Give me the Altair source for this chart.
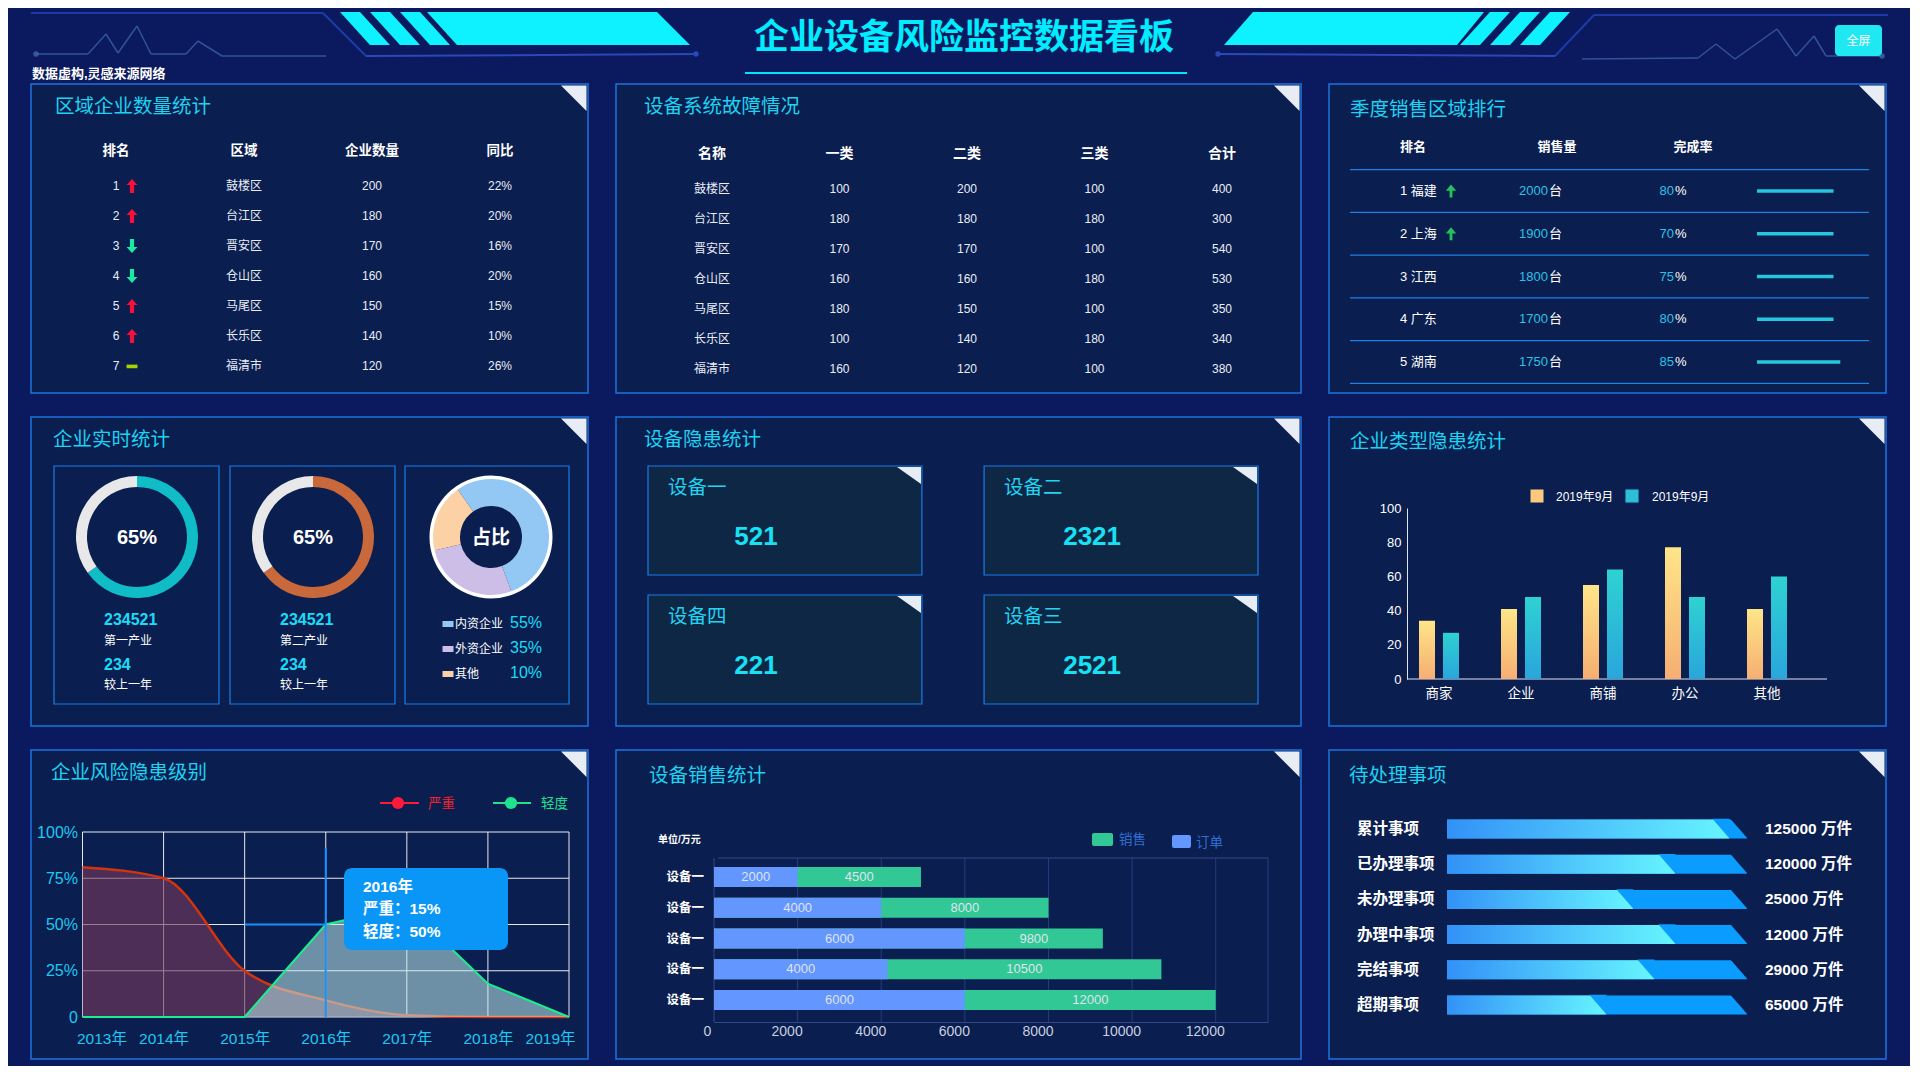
import altair as alt
import pandas as pd

# ---------------- data ----------------
page_title = "企业设备风险监控数据看板"
page_note = "数据虚构,灵感来源网络"
fullscreen_label = "全屏"

t1_title = "区域企业数量统计"
t1_cols = ["排名", "区域", "企业数量", "同比"]
t1_rank = [1, 2, 3, 4, 5, 6, 7]
t1_region = ["鼓楼区", "台江区", "晋安区", "仓山区", "马尾区", "长乐区", "福清市"]
t1_count = [200, 180, 170, 160, 150, 140, 120]
t1_yoy = ["22%", "20%", "16%", "20%", "15%", "10%", "26%"]
t1_trend = ["up", "up", "down", "down", "up", "up", "flat"]

t2_title = "设备系统故障情况"
t2_cols = ["名称", "一类", "二类", "三类", "合计"]
t2_name = ["鼓楼区", "台江区", "晋安区", "仓山区", "马尾区", "长乐区", "福清市"]
t2_c1 = [100, 180, 170, 160, 180, 100, 160]
t2_c2 = [200, 180, 170, 160, 150, 140, 120]
t2_c3 = [100, 180, 100, 180, 100, 180, 100]
t2_total = [400, 300, 540, 530, 350, 340, 380]

t3_title = "季度销售区域排行"
t3_cols = ["排名", "销售量", "完成率"]
t3_rank = [1, 2, 3, 4, 5]
t3_area = ["福建", "上海", "江西", "广东", "湖南"]
t3_sales = [2000, 1900, 1800, 1700, 1750]
t3_unit = "台"
t3_rate = [80, 70, 75, 80, 85]
t3_rising = [True, True, False, False, False]
t3_bar = [90, 90, 90, 90, 98]

t4_title = "企业实时统计"
t4_share = [65, 65]
t4_total = ["234521", "234521"]
t4_kind = ["第一产业", "第二产业"]
t4_delta = ["234", "234"]
t4_delta_label = ["较上一年", "较上一年"]
t4_pie_center = "占比"
t4_pie_cat = ["内资企业", "外资企业", "其他"]
t4_pie_val = [54, 27, 19]
t4_pie_pct = ["55%", "35%", "10%"]

t5_title = "设备隐患统计"
t5_name = ["设备一", "设备二", "设备四", "设备三"]
t5_value = ["521", "2321", "221", "2521"]
t5_col = [0, 1, 0, 1]
t5_row = [0, 0, 1, 1]

t6_title = "企业类型隐患统计"
t6_cat = ["商家", "企业", "商铺", "办公", "其他"]
t6_a = [34, 41, 55, 77, 41]
t6_b = [27, 48, 64, 48, 60]
t6_series = ["2019年9月", "2019年9月"]
t6_ticks = [0, 20, 40, 60, 80, 100]

t7_title = "企业风险隐患级别"
t7_year = ["2013年", "2014年", "2015年", "2016年", "2017年", "2018年", "2019年"]
t7_severe = [81, 75, 25, 9, 1, 0, 0]
t7_mild = [0, 0, 0, 50, 60, 18, 0]
t7_ticks = [0, 25, 50, 75, 100]
t7_legend = ["严重", "轻度"]
t7_tip = ["2016年", "严重：15%", "轻度：50%"]

t8_title = "设备销售统计"
t8_unit = "单位/万元"
t8_name = ["设备一", "设备一", "设备一", "设备一", "设备一"]
t8_order = [2000, 4000, 6000, 4150, 6000]
t8_sales = [4950, 8000, 9300, 10700, 12000]
t8_order_label = ["2000", "4000", "6000", "4000", "6000"]
t8_sales_label = ["4500", "8000", "9800", "10500", "12000"]
t8_ticks = [0, 2000, 4000, 6000, 8000, 10000, 12000]
t8_xmax = 13250
t8_legend = ["销售", "订单"]

t9_title = "待处理事项"
t9_item = ["累计事项", "已办理事项", "未办理事项", "办理中事项", "完结事项", "超期事项"]
t9_value = ["125000 万件", "120000 万件", "25000 万件", "12000 万件", "29000 万件", "65000 万件"]
t9_progress = [94, 76, 62, 76, 69, 53]

# ---------------- style ----------------
FONT = "Liberation Sans, Noto Sans CJK SC"
BG = "#0b1a5e"
PANEL = "#0a1e50"
BORDER = "#1b74dc"
BOX = "#1a7de6"
TITLE_C = "#1dd3f0"
CYAN = "#1adcf7"
TXT = "#e9edf5"
H = 309


def single():
    return alt.Chart(alt.Data(values=[{"k": 0}]))


def txt(s, x, y, size=12, color=TXT, weight="normal", align="left"):
    return single().mark_text(text=s, font=FONT, fontSize=size, color=color, fontWeight=weight,
                              align=align, baseline="middle").encode(x=alt.value(x), y=alt.value(y))


def rule(x1, y1, x2, y2, color, width=1.0, opacity=1.0):
    return single().mark_rule(color=color, strokeWidth=width, opacity=opacity).encode(
        x=alt.value(x1), y=alt.value(y1), x2=alt.value(x2), y2=alt.value(y2))


def polyline(pts, color, width=1.5, opacity=1.0):
    return [rule(a[0], a[1], b[0], b[1], color, width, opacity) for a, b in zip(pts[:-1], pts[1:])]


def box(x1, y1, x2, y2, fill="transparent", stroke="transparent", sw=1.0, radius=0):
    return single().mark_rect(fill=fill, stroke=stroke, strokeWidth=sw, cornerRadius=radius).encode(
        x=alt.value(x1), y=alt.value(y1), x2=alt.value(x2), y2=alt.value(y2))


def poly(pts, color):
    xs = [p[0] for p in pts]
    ys = [p[1] for p in pts]
    cx = (min(xs) + max(xs)) / 2
    cy = (min(ys) + max(ys)) / 2
    half = max(max(xs) - min(xs), max(ys) - min(ys)) / 2
    path = "M" + "L".join(f"{(x - cx) / half:.4f},{(y - cy) / half:.4f}" for x, y in pts) + "Z"
    return single().mark_point(shape=path, size=(2 * half) ** 2, filled=True, color=color,
                               opacity=1, strokeWidth=0).encode(x=alt.value(cx), y=alt.value(cy))


def dot(x, y, color, size=30, opacity=1.0):
    return single().mark_point(shape="circle", size=size, filled=True, color=color, opacity=opacity,
                               strokeWidth=0).encode(x=alt.value(x), y=alt.value(y))


def panel(w, title, tx, ty, layers, **resolve):
    ch = alt.layer(*layers, txt(title, tx, ty, 19.5, TITLE_C),
                   poly([(w - 27, 1.5), (w - 1.5, 1.5), (w - 1.5, 27)], "#e8edf5"))
    if resolve:
        ch = ch.resolve_scale(**resolve)
    return ch.properties(width=w, height=H,
                         view=alt.ViewBackground(fill=PANEL, stroke=BORDER, strokeWidth=1.5))


UP = "M0,-1L0.78,-0.15L0.3,-0.15L0.3,1L-0.3,1L-0.3,-0.15L-0.78,-0.15Z"
DOWN = "M0,1L0.78,0.15L0.3,0.15L0.3,-1L-0.3,-1L-0.3,0.15L-0.78,0.15Z"
DASH = "M-0.78,-0.2L0.78,-0.2L0.78,0.32L-0.78,0.32Z"
UP_THIN = "M0,-1L0.8,-0.05L0.22,-0.05L0.22,1L-0.22,1L-0.22,-0.05L-0.8,-0.05Z"
RECT = "M-1,-0.55L1,-0.55L1,0.55L-1,0.55Z"
CUT = "M-1.75,-1.08L0.06,-1.08L0.06,1.0Z"

# ---------------- header ----------------
PULSE = "#3f65a8"
hdr = [
    rule(0, 4, 292, 4, "#1f3aa6", 2), rule(292, 4, 335, 47, "#1f3aa6", 2),
    rule(335, 47, 665, 45, "#2a48b8", 2), dot(665, 45, "#2a48b8", 28),
    rule(1857, 6, 1563, 6, "#1f3aa6", 2), rule(1563, 6, 1524, 47, "#1f3aa6", 2),
    rule(1524, 47, 1187, 45, "#2a48b8", 2), dot(1187, 45, "#2a48b8", 28),
    poly([(396, 3), (626, 3), (659, 36), (426, 36)], "#0ef2ff"),
    poly([(1222, 3), (1453, 3), (1426, 36), (1193, 36)], "#0ef2ff"),
    dot(5, 45, PULSE, 30, 0.8), dot(1851, 47, PULSE, 30, 0.8),
]
hdr += polyline([(5, 45), (57, 45), (75, 25), (87, 44), (106, 17), (120, 45), (155, 45), (167, 32),
                 (191, 47), (295, 47)], PULSE, 1.5, 0.75)
hdr += polyline([(1551, 50), (1667, 49), (1685, 35), (1704, 50), (1746, 20), (1765, 47), (1783, 27),
                 (1795, 47), (1851, 47)], PULSE, 1.5, 0.75)
for x0 in [340, 370, 400]:
    hdr.append(poly([(x0 - 31, 3), (x0 - 11, 3), (x0 + 19, 36), (x0 - 1, 36)], "#0ef2ff"))
for x0 in [1490, 1520, 1550]:
    hdr.append(poly([(x0 - 31, 3), (x0 - 11, 3), (x0 - 41, 36), (x0 - 61, 36)], "#0ef2ff"))
hdr += [
    txt(page_title, 933, 29, 35, "#00ecff", "bold", "center"),
    rule(714, 64, 1156, 64, "#00e5ff", 2),
    txt(page_note, 1, 65, 13, "white", "bold"),
    box(1804, 16, 1851, 47, fill="#1fe8f2", radius=4),
    txt(fullscreen_label, 1827.5, 31.5, 12, "white", "normal", "center"),
]
header = alt.layer(*hdr).properties(width=1857, height=73)

# ---------------- panel 1 ----------------
sc1x = alt.Scale(type="point", domain=t1_cols, range=[85, 469], padding=0)
sc1y = alt.Scale(type="point", domain=t1_rank, range=[102, 282], padding=0)
cells1 = pd.DataFrame([{"row": r, "col": c, "t": str(v)}
                       for i, r in enumerate(t1_rank)
                       for c, v in zip(t1_cols, [r, t1_region[i], t1_count[i], t1_yoy[i]])])
p1 = panel(557, t1_title, 24, 23, [
    alt.Chart(pd.DataFrame({"col": t1_cols})).mark_text(font=FONT, fontSize=13.5, fontWeight="bold", color="white").encode(
        x=alt.X("col:N", scale=sc1x, axis=None), y=alt.value(67), text="col:N"),
    alt.Chart(cells1).mark_text(font=FONT, fontSize=12, color=TXT).encode(
        x=alt.X("col:N", scale=sc1x, axis=None), y=alt.Y("row:O", scale=sc1y, axis=None), text="t:N"),
    alt.Chart(pd.DataFrame({"row": t1_rank, "trend": t1_trend})).mark_point(
        filled=True, opacity=1, size=196, strokeWidth=0).encode(
        x=alt.value(101), y=alt.Y("row:O", scale=sc1y, axis=None),
        shape=alt.Shape("trend:N", scale=alt.Scale(domain=["up", "down", "flat"], range=[UP, DOWN, DASH]), legend=None),
        color=alt.Color("trend:N", scale=alt.Scale(domain=["up", "down", "flat"], range=["#f5113c", "#1ee8a4", "#a6d200"]), legend=None)),
])

# ---------------- panel 2 ----------------
sc2x = alt.Scale(type="point", domain=t2_cols, range=[96, 606], padding=0)
sc2y = alt.Scale(type="point", domain=t1_rank, range=[105, 285], padding=0)
cells2 = pd.DataFrame([{"row": i + 1, "col": c, "t": str(v)}
                       for i in range(len(t2_name))
                       for c, v in zip(t2_cols, [t2_name[i], t2_c1[i], t2_c2[i], t2_c3[i], t2_total[i]])])
p2 = panel(685, t2_title, 28, 23, [
    alt.Chart(pd.DataFrame({"col": t2_cols})).mark_text(font=FONT, fontSize=14, fontWeight="bold", color="white").encode(
        x=alt.X("col:N", scale=sc2x, axis=None), y=alt.value(70), text="col:N"),
    alt.Chart(cells2).mark_text(font=FONT, fontSize=12, color=TXT).encode(
        x=alt.X("col:N", scale=sc2x, axis=None), y=alt.Y("row:O", scale=sc2y, axis=None), text="t:N"),
])

# ---------------- panel 3 ----------------
d3 = pd.DataFrame({"idx": t3_rank, "label": [f"{r} {a}" for r, a in zip(t3_rank, t3_area)],
                   "sales": [str(s) for s in t3_sales], "rate": [str(r) for r in t3_rate],
                   "rising": t3_rising, "bar": t3_bar})
d3sep = pd.DataFrame({"idx": [r - 0.5 for r in t3_rank] + [t3_rank[-1] + 0.5]})
sc3y = alt.Scale(domain=[1, 5], range=[107, 278])
sc3x = alt.Scale(domain=[0, 100], range=[428, 513])
Y3 = alt.Y("idx:Q", scale=sc3y, axis=None)
l3 = [alt.Chart(d3sep).mark_rule(color="#1e7fe4", strokeWidth=1.2).encode(y=Y3, x=alt.value(21), x2=alt.value(540))]
for c, x in zip(t3_cols, [84, 228, 364]):
    l3.append(txt(c, x, 63, 13, "white", "bold", "center"))
l3 += [
    alt.Chart(d3).mark_text(align="left", font=FONT, fontSize=13, color="white").encode(x=alt.value(71), y=Y3, text="label:N"),
    alt.Chart(d3).transform_filter("datum.rising").mark_point(shape=UP_THIN, size=169, filled=True, opacity=1,
                                                              color="#25c25a", strokeWidth=0).encode(x=alt.value(122), y=Y3),
    alt.Chart(d3).mark_text(align="right", font=FONT, fontSize=13, color="#2ac3e6").encode(x=alt.value(219), y=Y3, text="sales:N"),
    alt.Chart(d3).mark_text(text=t3_unit, align="left", font=FONT, fontSize=13, color="white").encode(x=alt.value(220), y=Y3),
    alt.Chart(d3).mark_text(align="right", font=FONT, fontSize=13, color="#2ac3e6").encode(x=alt.value(345), y=Y3, text="rate:N"),
    alt.Chart(d3).mark_text(text="%", align="left", font=FONT, fontSize=13, color="white").encode(x=alt.value(346), y=Y3),
    alt.Chart(d3).transform_calculate(z="0").mark_rule(color="#25c6de", strokeWidth=3.5).encode(
        x=alt.X("z:Q", scale=sc3x, axis=None), x2="bar:Q", y=Y3),
]
p3 = panel(557, t3_title, 21, 26, l3)

# ---------------- panel 4 ----------------
l4 = []
for x1, x2 in [(23, 188), (199, 364), (374, 538)]:
    l4.append(box(x1, 49, x2, 287, stroke=BOX, sw=1.2))
donut_cx = [106, 282]
donut_col = ["#10bdc6", "#c9683a"]
text_x = [73, 249]
for i in range(2):
    d = pd.DataFrame({"k": ["on", "off"], "v": [t4_share[i], 100 - t4_share[i]], "o": [0, 1]})
    l4.append(alt.Chart(d).mark_arc(innerRadius=50, outerRadius=61).encode(
        theta=alt.Theta("v:Q", stack=True),
        color=alt.Color("k:N", scale=alt.Scale(domain=["on", "off"], range=[donut_col[i], "#e8e8e8"]), legend=None),
        order=alt.Order("o:Q"), x=alt.value(donut_cx[i]), y=alt.value(120)))
    l4.append(txt(f"{t4_share[i]}%", donut_cx[i], 121, 20, "white", "bold", "center"))
    l4.append(txt(t4_total[i], text_x[i], 203, 16, CYAN, "bold"))
    l4.append(txt(t4_kind[i], text_x[i], 224, 12, "white"))
    l4.append(txt(t4_delta[i], text_x[i], 248, 16, CYAN, "bold"))
    l4.append(txt(t4_delta_label[i], text_x[i], 268, 12, "white"))
PIE_COLORS = ["#92c8f3", "#cdbee8", "#fdd1a6"]
dpie = pd.DataFrame({"cat": t4_pie_cat, "pv": t4_pie_val, "pct": t4_pie_pct, "o": [0, 1, 2]})
sc4y = alt.Scale(type="point", domain=t4_pie_cat, range=[207, 257], padding=0)
sc4c = alt.Scale(domain=t4_pie_cat, range=PIE_COLORS)
l4 += [
    single().mark_arc(theta=0, theta2=6.2832, innerRadius=57, outerRadius=61.5, color="white").encode(
        x=alt.value(460), y=alt.value(120)),
    alt.Chart(dpie).mark_arc(innerRadius=31, outerRadius=58).encode(
        theta=alt.Theta("pv:Q", stack=True, scale=alt.Scale(range=[5.672, 11.955])),
        color=alt.Color("cat:N", scale=sc4c, legend=None), order=alt.Order("o:Q"),
        x=alt.value(460), y=alt.value(120)),
    txt(t4_pie_center, 460, 121, 19, "white", "bold", "center"),
    alt.Chart(dpie).mark_point(shape=RECT, size=121, filled=True, opacity=1, strokeWidth=0).encode(
        x=alt.value(417), y=alt.Y("cat:N", scale=sc4y, axis=None), color=alt.Color("cat:N", scale=sc4c, legend=None)),
    alt.Chart(dpie).mark_text(align="left", font=FONT, fontSize=12, color="white").encode(
        x=alt.value(424), y=alt.Y("cat:N", scale=sc4y, axis=None), text="cat:N"),
    alt.Chart(dpie).mark_text(align="left", font=FONT, fontSize=16, color=CYAN, dy=-1).encode(
        x=alt.value(479), y=alt.Y("cat:N", scale=sc4y, axis=None), text="pct:N"),
]
p4 = panel(557, t4_title, 22, 23, l4, theta="independent", color="independent")

# ---------------- panel 5 ----------------
d5 = pd.DataFrame({"name": t5_name, "value": t5_value, "col": t5_col, "row": t5_row})
sc5x = alt.Scale(type="band", domain=[0, 1], range=[32, 642], paddingInner=0.185, paddingOuter=0)
sc5y = alt.Scale(type="band", domain=[0, 1], range=[49, 287], paddingInner=0.155, paddingOuter=0)
l5 = [
    alt.Chart(d5).mark_rect(fill="#0e2744", stroke=BOX, strokeWidth=1.2).encode(
        x=alt.X("col:O", scale=sc5x, axis=None), y=alt.Y("row:O", scale=sc5y, axis=None)),
    alt.Chart(d5).mark_text(align="left", baseline="middle", dx=20, dy=22, font=FONT, fontSize=19.5, color="#22d3f2").encode(
        x=alt.X("col:O", scale=sc5x, axis=None, bandPosition=0), y=alt.Y("row:O", scale=sc5y, axis=None, bandPosition=0), text="name:N"),
    alt.Chart(d5).mark_text(align="center", baseline="middle", dx=108, dy=71, font=FONT, fontSize=26, fontWeight="bold", color="#18e0f5").encode(
        x=alt.X("col:O", scale=sc5x, axis=None, bandPosition=0), y=alt.Y("row:O", scale=sc5y, axis=None, bandPosition=0), text="value:N"),
]
for c in [0, 1]:
    for r in [0, 1]:
        x1 = 32 + c * 336 + 274
        y0 = 49 + r * 129
        l5.append(poly([(x1 - 25, y0 + 1), (x1 - 1, y0 + 1), (x1 - 1, y0 + 18)], "#e8edf5"))
p5 = panel(685, t5_title, 28, 23, l5)

# ---------------- panel 6 ----------------
GRAD_A = alt.LinearGradient(gradient="linear", stops=[alt.GradientStop(color="#f6ae72", offset=0),
                                                      alt.GradientStop(color="#ffe588", offset=1)],
                            x1=0, x2=0, y1=1, y2=0)
GRAD_B = alt.LinearGradient(gradient="linear", stops=[alt.GradientStop(color="#2aa5dc", offset=0),
                                                      alt.GradientStop(color="#2ed2d2", offset=1)],
                            x1=0, x2=0, y1=1, y2=0)
sc6x = alt.Scale(type="band", domain=t6_cat, range=[69, 479], paddingInner=0, paddingOuter=0)
sc6o = alt.Scale(type="band", domain=["a", "b"], paddingInner=0.333, paddingOuter=0.875)
Y6R = [262, 91]
sc6y = alt.Scale(domain=[0, 100], range=Y6R, nice=False)
AX6 = alt.Axis(orient="bottom", offset=-47, domain=False, ticks=False, grid=False, labelAngle=0, labelColor="white",
               labelFont=FONT, labelFontSize=13.5, labelPadding=7, title=None, zindex=1)
AY6 = alt.Axis(orient="left", offset=-78, values=t6_ticks, format="d", domain=True, domainColor="#dfe5ee", ticks=False,
               grid=False, labelColor="white", labelFont=FONT, labelFontSize=13, labelPadding=6, title=None, zindex=1)
X6 = alt.X("cat:N", scale=sc6x, axis=AX6)
Y6 = alt.Y("v:Q", scale=sc6y, axis=AY6)
d6a = pd.DataFrame({"cat": t6_cat, "s": ["a"] * 5, "v": t6_a})
d6b = pd.DataFrame({"cat": t6_cat, "s": ["b"] * 5, "v": t6_b})
l6 = [
    rule(78, Y6R[0], 498, Y6R[0], "#dfe5ee", 1),
    alt.Chart(d6a).mark_bar(color=GRAD_A).encode(x=X6, xOffset=alt.XOffset("s:N", scale=sc6o), y=Y6),
    alt.Chart(d6b).mark_bar(color=GRAD_B).encode(x=X6, xOffset=alt.XOffset("s:N", scale=sc6o), y=Y6),
    single().mark_point(shape="square", size=170, filled=True, opacity=1, strokeWidth=0, color="#fcca7e").encode(
        x=alt.value(208), y=alt.value(79)),
    single().mark_point(shape="square", size=170, filled=True, opacity=1, strokeWidth=0, color="#2cbfd8").encode(
        x=alt.value(303), y=alt.value(79)),
    txt(t6_series[0], 227, 80, 12, "white"),
    txt(t6_series[1], 323, 80, 12, "white"),
]
p6 = panel(557, t6_title, 21, 25, l6)

# ---------------- panel 7 ----------------
CY7 = "#1cc9f0"
X7R = [51.5, 538]
Y7R = [267, 82]
sc7x = alt.Scale(type="point", domain=t7_year, range=X7R, padding=0)
sc7y = alt.Scale(domain=[0, 100], range=Y7R, nice=False)
AX7 = alt.Axis(orient="bottom", offset=-42, grid=False, domain=False, ticks=False, zindex=1,
               labelAngle=0, labelColor=CY7, labelFont=FONT, labelFontSize=15.5, labelPadding=14, labelFlush=True,
               labelFlushOffset=6, title=None)
AY7 = alt.Axis(orient="left", offset=-51.5, values=t7_ticks, labelExpr="datum.value == 0 ? '0' : datum.value + '%'",
               grid=False, domain=False, ticks=False, labelColor=CY7, zindex=1,
               labelFont=FONT, labelFontSize=16, labelPadding=5, title=None)
d7a = pd.DataFrame({"year": t7_year, "v": t7_severe})
d7b = pd.DataFrame({"year": t7_year, "v": t7_mild})
XN = alt.X("year:N", scale=sc7x, axis=AX7)
YN = alt.Y("v:Q", scale=sc7y, axis=AY7)
step7 = (X7R[1] - X7R[0]) / (len(t7_year) - 1)
x2015 = X7R[0] + 2 * step7
x2016 = X7R[0] + 3 * step7
y50 = Y7R[0] + (Y7R[1] - Y7R[0]) * 0.5
l7 = [
    alt.Chart(pd.DataFrame({"year": t7_year})).mark_rule(color="white", opacity=0.9, strokeWidth=1).encode(
        x=XN, y=alt.value(Y7R[1]), y2=alt.value(Y7R[0])),
    alt.Chart(pd.DataFrame({"v": t7_ticks})).mark_rule(color="white", opacity=0.9, strokeWidth=1).encode(
        y=YN, x=alt.value(X7R[0]), x2=alt.value(X7R[1])),
    alt.Chart(d7a).mark_area(color="#76385a", opacity=0.62, interpolate="monotone").encode(x=XN, y=YN),
    alt.Chart(d7a).mark_line(color="#d4340c", strokeWidth=2.5, interpolate="monotone").encode(x=XN, y=YN),
    alt.Chart(d7b).mark_area(color="#bfefef", opacity=0.55, interpolate="linear").encode(x=XN, y=YN),
    alt.Chart(d7b).mark_line(color="#19ef8e", strokeWidth=2, interpolate="linear").encode(x=XN, y=YN),
    rule(x2016, 98, x2016, Y7R[0], "#1890ff", 2),
    rule(x2015, y50, x2016, y50, "#1890ff", 2),
    box(313, 118, 477, 200, fill="#0996f7", radius=8),
    txt(t7_tip[0], 332, 137, 15.5, "white", "bold"),
    txt(t7_tip[1], 332, 159, 15.5, "white", "bold"),
    txt(t7_tip[2], 332, 182, 15.5, "white", "bold"),
    rule(349, 53, 388, 53, "#ff1a3a", 2), dot(367, 53, "#ff1a3a", 150),
    txt(t7_legend[0], 397, 54, 13.5, "#f0222a"),
    rule(462, 53, 500, 53, "#1de38e", 2), dot(480, 53, "#1de38e", 150),
    txt(t7_legend[1], 510, 54, 13.5, "#1de38e"),
]
p7 = panel(557, t7_title, 20, 23, l7)

# ---------------- panel 8 ----------------
d8 = pd.DataFrame({"idx": [1, 2, 3, 4, 5], "name": t8_name, "order": t8_order, "sales": t8_sales,
                   "olbl": t8_order_label, "slbl": t8_sales_label})
sc8x = alt.Scale(domain=[0, t8_xmax], range=[98, 652], nice=False, zero=True)
sc8y = alt.Scale(type="band", domain=[1, 2, 3, 4, 5], range=[111.6, 265.4], paddingInner=0.35, paddingOuter=0.175)
AX8 = alt.Axis(orient="bottom", offset=-37, values=t8_ticks, format="d", grid=False, domain=True, domainColor="#34468a",
               ticks=False, labelColor="#c8cee0", labelFont=FONT, labelFontSize=14, labelPadding=2, labelOffset=-11,
               labelAngle=0, title=None, zindex=1)
Y8 = alt.Y("idx:O", scale=sc8y, axis=None)
l8 = [
    alt.Chart(pd.DataFrame({"g": t8_ticks[1:] + [t8_xmax]})).mark_rule(color="#283c7c", strokeWidth=1).encode(
        x=alt.X("g:Q", scale=sc8x, axis=AX8), y=alt.value(108), y2=alt.value(272)),
    rule(98, 108, 98, 272, "#34468a", 1),
    rule(102, 108, 652, 108, "#34468a", 1),
    alt.Chart(d8).mark_bar(color="#32c896").encode(x=alt.X("sales:Q", scale=sc8x, axis=AX8), y=Y8),
    alt.Chart(d8).mark_bar(color="#6396ff").encode(x=alt.X("order:Q", scale=sc8x, axis=AX8), y=Y8),
    alt.Chart(d8).transform_calculate(ox="datum.order / 2").mark_text(font=FONT, fontSize=13, color="#dfe4ee").encode(
        x=alt.X("ox:Q", scale=sc8x, axis=AX8), y=Y8, text="olbl:N"),
    alt.Chart(d8).transform_calculate(sx="(datum.order + datum.sales) / 2").mark_text(font=FONT, fontSize=13, color="#dfe4ee").encode(
        x=alt.X("sx:Q", scale=sc8x, axis=AX8), y=Y8, text="slbl:N"),
    alt.Chart(d8).mark_text(align="right", font=FONT, fontSize=12.5, fontWeight="bold", color="white").encode(
        x=alt.value(88), y=Y8, text="name:N"),
    txt(t8_unit, 42, 90, 10, "white", "bold"),
    box(476, 83, 497, 96, fill="#32c896", radius=2),
    txt(t8_legend[0], 503, 90, 13.5, "#2f6fd0"),
    box(556, 85, 575, 98, fill="#6396ff", radius=2),
    txt(t8_legend[1], 580, 93, 13.5, "#2f6fd0"),
]
p8 = panel(685, t8_title, 33, 26, l8)

# ---------------- panel 9 ----------------
GRAD9 = alt.LinearGradient(gradient="linear", stops=[alt.GradientStop(color="#3391f7", offset=0),
                                                     alt.GradientStop(color="#66f5ff", offset=1)],
                           x1=0, x2=1, y1=0, y2=0)
d9 = pd.DataFrame({"item": t9_item, "val": t9_value, "p": t9_progress})
sc9y = alt.Scale(type="band", domain=t9_item, range=[61.4, 272.6], paddingInner=0.46, paddingOuter=0.23)
sc9x = alt.Scale(domain=[0, 100], range=[118, 418])
Y9 = alt.Y("item:N", scale=sc9y, axis=None)
l9 = [
    alt.Chart(d9).transform_calculate(full="100").mark_bar(color="#0a9cfe").encode(
        x=alt.X("full:Q", scale=sc9x, axis=None), y=Y9),
    alt.Chart(d9).transform_calculate(full="100").mark_point(shape=CUT, size=361, filled=True, color=PANEL, opacity=1,
                                                            strokeWidth=0).encode(
        x=alt.X("full:Q", scale=sc9x, axis=None), y=Y9),
    alt.Chart(d9).mark_bar(color=GRAD9).encode(x=alt.X("p:Q", scale=sc9x, axis=None), y=Y9),
    alt.Chart(d9).mark_point(shape=CUT, size=361, filled=True, color="#0a9cfe", opacity=1, strokeWidth=0).encode(
        x=alt.X("p:Q", scale=sc9x, axis=None), y=Y9),
    alt.Chart(d9).mark_text(align="left", font=FONT, fontSize=15.5, fontWeight="bold", color="white").encode(
        x=alt.value(28), y=Y9, text="item:N"),
    alt.Chart(d9).mark_text(align="left", font=FONT, fontSize=15.5, fontWeight="bold", color="white").encode(
        x=alt.value(436), y=Y9, text="val:N"),
]
p9 = panel(557, t9_title, 20, 26, l9)

# ---------------- layout ----------------
grid = alt.concat(p1, p2, p3, p4, p5, p6, p7, p8, p9, columns=3,
                  spacing={"row": 24, "column": 28}, bounds="flush")
chart = alt.vconcat(header, grid, spacing=0).properties(
    background=BG, padding={"left": 21, "top": 0, "right": 20, "bottom": 6}
).configure(font=FONT, view=alt.ViewConfig(stroke="transparent"))

chart.save("out.html", embed_options={"renderer": "svg", "actions": False})
